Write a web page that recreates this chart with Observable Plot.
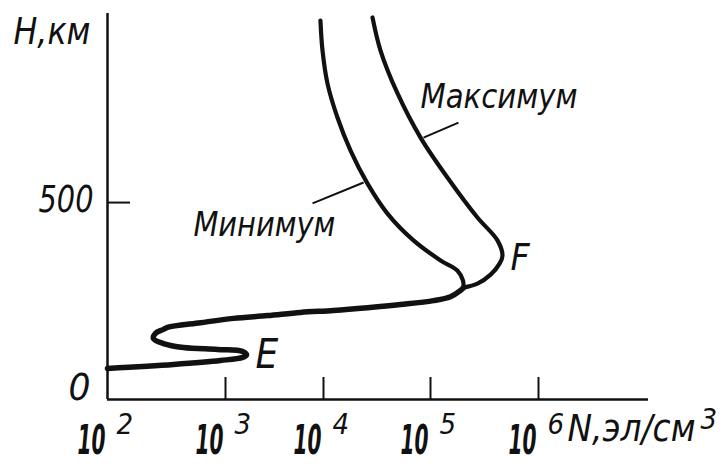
<!DOCTYPE html>
<html>
<head>
<meta charset="utf-8">
<script src="https://cdn.jsdelivr.net/npm/d3@7"></script>
<script src="https://cdn.jsdelivr.net/npm/@observablehq/plot@0.6"></script>
<style>
  html, body { margin: 0; padding: 0; background: #fff; }
  #chart svg { display: block; }
</style>
</head>
<body>
<div id="chart"></div>
<script>
// Электронная концентрация N (эл/см³) в зависимости от высоты H (км)

// Общая часть профиля: снизу через слой E до точки разветвления
const baseN = [100, 362, 908, 1500, 1640, 1500, 855, 441, 298, 245, 255, 298, 322, 614, 1208, 2690, 5820, 12400, 25800, 52500, 106600, 153000, 190000, 202000];
const baseH = [79, 89, 99, 107, 113, 122, 127, 132, 142, 155, 168, 178, 183, 195, 206, 213, 221, 226, 233, 241, 251, 261, 277, 284];

// Ветвь «Максимум» (через максимум слоя F)
const maxN = [202000, 272000, 360000, 436000, 464000, 417000, 272000, 144000, 80700, 49200, 34100, 28700];
const maxH = [284, 294, 317, 345, 365, 404, 462, 563, 665, 777, 886, 970];

// Ветвь «Минимум»
const minN = [202000, 200000, 178000, 124000, 69300, 39600, 25800, 17900, 13500, 10900, 9770, 9310];
const minH = [284, 302, 327, 353, 404, 472, 548, 632, 716, 802, 886, 962];

// Деления и подписи осей
const xTicks = [1e2, 1e3, 1e4, 1e5, 1e6];
const xTickExp = ["2", "3", "4", "5", "6"];
const yTicks = [0, 500];
const yTickLabels = ["0", "500"];

const toPoints = (N, H) => N.map((n, i) => ({N: n, H: H[i]}));
const base = toPoints(baseN, baseH);
const maxBranch = toPoints(maxN, maxH);
const minBranch = toPoints(minN, minH);

const ink = "#111";
const font = "'Liberation Sans Narrow', 'DejaVu Sans Condensed', 'Liberation Sans', sans-serif";
const txt = {fontFamily: font, fontStyle: "italic", fill: ink};

// узкий чертёжный шрифт: ширина надписей в пикселях
const textWidths = {"10": 28, "500": 55, "0": 22, "Минимум": 142, "Максимум": 157, "H,км": 77, "N,эл/см": 128};

const W = 724, H = 464;
const mL = 107, mR = 76, mT = 13, mB = 65;

const chart = Plot.plot({
  width: W,
  height: H,
  marginLeft: mL,
  marginRight: mR,
  marginTop: mT,
  marginBottom: mB,
  style: {background: "#fff", color: ink, overflow: "visible"},
  x: {
    type: "log",
    domain: [1e2, 1e3, 1e4, 1e5, 1e6, 1e7],
    range: [107, 225, 323, 430, 538, 648],
    axis: null
  },
  y: {domain: [0, 980], axis: null},
  marks: [
    // оси
    Plot.ruleX([1e2], {stroke: ink, strokeWidth: 2.5}),
    Plot.ruleY([0], {stroke: ink, strokeWidth: 2.5}),
    // короткие деления внутрь поля
    Plot.tickX(xTicks.slice(1), {x: d => d, stroke: ink, strokeWidth: 2, insetTop: 364}),
    Plot.tickY(yTicks.slice(1), {y: d => d, stroke: ink, strokeWidth: 2, insetRight: 518}),

    // подписи делений оси N
    Plot.text(xTicks, {x: d => d, y: 0, text: () => "10", ...txt, fontSize: 41, fontWeight: "bold",
      textAnchor: "end", lineAnchor: "bottom", dx: -2, dy: 54}),
    Plot.text(xTicks, {x: d => d, y: 0, text: (d, i) => xTickExp[i], ...txt, fontSize: 29,
      textAnchor: "start", lineAnchor: "bottom", dx: 9, dy: 34}),
    // подписи делений оси H
    Plot.text([yTicks[1]], {x: 1e2, y: d => d, text: () => yTickLabels[1], ...txt, fontSize: 38,
      textAnchor: "end", lineAnchor: "middle", dx: -14, dy: -3}),
    Plot.text([yTicks[0]], {x: 1e2, y: d => d, text: () => yTickLabels[0], ...txt, fontSize: 38,
      textAnchor: "end", lineAnchor: "middle", dx: -17, dy: -12}),

    // названия осей
    Plot.text(["H,км"], {frameAnchor: "top-left", ...txt, fontSize: 38,
      textAnchor: "start", lineAnchor: "bottom", dx: -94, dy: 30}),
    Plot.text(["N,эл/см"], {frameAnchor: "bottom-right", ...txt, fontSize: 38,
      textAnchor: "start", lineAnchor: "bottom", dx: -81, dy: 41}),
    Plot.text(["3"], {frameAnchor: "bottom-right", ...txt, fontSize: 29,
      textAnchor: "start", lineAnchor: "bottom", dx: 52, dy: 29}),

    // профили
    Plot.line(maxBranch, {x: "N", y: "H", curve: "catmull-rom", stroke: ink, strokeWidth: 4.2,
      strokeLinecap: "round", strokeLinejoin: "round"}),
    Plot.line(minBranch, {x: "N", y: "H", curve: "catmull-rom", stroke: ink, strokeWidth: 4.2,
      strokeLinecap: "round", strokeLinejoin: "round"}),
    Plot.line(base, {x: "N", y: "H", curve: "catmull-rom", stroke: ink, strokeWidth: 5.5,
      strokeLinecap: "round", strokeLinejoin: "round"}),

    // выноски
    Plot.link([{x1: 86100, y1: 665, x2: 181500, y2: 703}], {x1: "x1", y1: "y1", x2: "x2", y2: "y2", stroke: ink, strokeWidth: 2}),
    Plot.link([{x1: 23700, y1: 551, x2: 7730, y2: 498}], {x1: "x1", y1: "y1", x2: "x2", y2: "y2", stroke: ink, strokeWidth: 2}),

    // надписи у кривых
    Plot.text([{N: 80700, H: 739, t: "Максимум"}], {x: "N", y: "H", text: "t", ...txt, fontSize: 34,
      textAnchor: "start", lineAnchor: "bottom"}),
    Plot.text([{N: 535, H: 416, t: "Минимум"}], {x: "N", y: "H", text: "t", ...txt, fontSize: 34,
      textAnchor: "start", lineAnchor: "bottom"}),
    Plot.text([{N: 2023, H: 79, t: "E"}], {x: "N", y: "H", text: "t", ...txt, fontSize: 40,
      textAnchor: "start", lineAnchor: "bottom"}),
    Plot.text([{N: 551000, H: 328, t: "F"}], {x: "N", y: "H", text: "t", ...txt, fontSize: 37,
      textAnchor: "start", lineAnchor: "bottom"})
  ]
});

document.getElementById("chart").appendChild(chart);

// сжать надписи по горизонтали, как в узком чертёжном шрифте
d3.select(chart).selectAll("text").each(function () {
  const w = textWidths[this.textContent];
  if (!w) return;
  const natural = this.getComputedTextLength();
  if (!natural) return;
  const s = w / natural;
  const x0 = +this.getAttribute("x") || 0;
  const t = this.getAttribute("transform") || "";
  this.setAttribute("transform", `${t} translate(${x0},0) scale(${s},1) translate(${-x0},0)`);
});
</script>
</body>
</html>
